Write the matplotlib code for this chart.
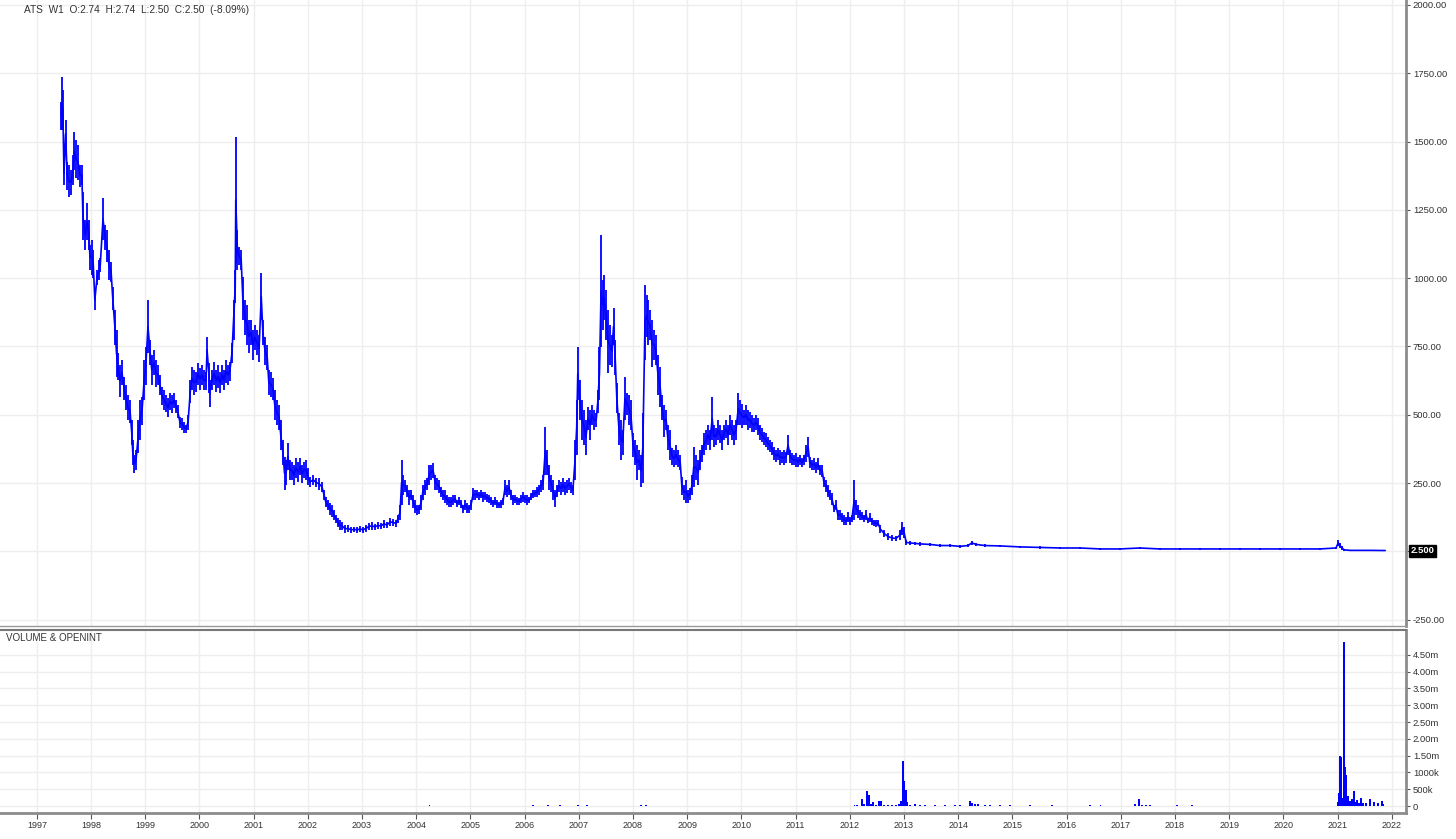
import matplotlib
matplotlib.use("Agg")
import matplotlib.pyplot as plt

plt.rcParams['font.family'] = ['Liberation Sans', 'DejaVu Sans']

# Weekly bars: (decimal year, high, low)
price_bars = [
    (1997.45, 1645, 1543), (1997.46, 1737, 1543), (1997.48, 1689, 1543), (1997.50, 1426, 1341),
    (1997.53, 1579, 1477), (1997.56, 1426, 1323), (1997.59, 1415, 1297), (1997.63, 1396, 1305),
    (1997.67, 1451, 1341), (1997.69, 1535, 1396), (1997.72, 1506, 1367), (1997.76, 1488, 1360),
    (1997.80, 1415, 1334), (1997.83, 1415, 1341), (1997.85, 1316, 1140), (1997.89, 1213, 1103),
    (1997.93, 1275, 1140), (1997.96, 1213, 1103), (1997.98, 1122, 1030), (1998.02, 1140, 1012),
    (1998.04, 1103, 1001), (1998.07, 957, 884), (1998.11, 1030, 975), (1998.15, 1067, 994),
    (1998.17, 1074, 1023), (1998.22, 1294, 1140), (1998.26, 1195, 1103), (1998.29, 1177, 1060),
    (1998.33, 1103, 994), (1998.37, 1060, 986), (1998.40, 968, 884), (1998.44, 884, 756),
    (1998.47, 811, 639), (1998.50, 726, 628), (1998.53, 683, 565), (1998.57, 701, 609),
    (1998.61, 639, 554), (1998.64, 609, 518), (1998.68, 573, 481), (1998.72, 554, 470),
    (1998.75, 481, 390), (1998.77, 408, 317), (1998.80, 353, 287), (1998.83, 371, 298),
    (1998.87, 481, 361), (1998.90, 554, 408), (1998.94, 565, 463), (1998.98, 701, 554),
    (1999.01, 748, 609), (1999.05, 920, 726), (1999.09, 774, 683), (1999.12, 719, 609),
    (1999.16, 737, 646), (1999.20, 701, 602), (1999.24, 683, 609), (1999.27, 646, 573),
    (1999.31, 602, 536), (1999.35, 591, 518), (1999.38, 573, 511), (1999.42, 562, 492),
    (1999.46, 580, 518), (1999.49, 573, 507), (1999.53, 580, 525), (1999.57, 554, 507),
    (1999.60, 536, 489), (1999.64, 492, 452), (1999.68, 489, 445), (1999.72, 474, 434),
    (1999.75, 463, 434), (1999.79, 500, 445), (1999.83, 628, 543), (1999.86, 675, 591),
    (1999.90, 664, 573), (1999.94, 657, 584), (1999.97, 690, 609), (2000.01, 672, 591),
    (2000.05, 683, 609), (2000.08, 664, 591), (2000.12, 657, 591), (2000.14, 785, 690),
    (2000.18, 690, 580), (2000.19, 628, 529), (2000.23, 664, 591), (2000.27, 694, 609),
    (2000.31, 664, 584), (2000.34, 683, 598), (2000.38, 657, 580), (2000.42, 683, 609),
    (2000.45, 664, 591), (2000.49, 701, 617), (2000.53, 683, 609), (2000.56, 694, 624),
    (2000.60, 763, 690), (2000.63, 920, 774), (2000.66, 1030, 909), (2000.67, 1517, 1055),
    (2000.70, 1177, 1030), (2000.73, 1115, 1049), (2000.77, 1103, 1030), (2000.80, 1005, 847),
    (2000.84, 920, 792), (2000.88, 902, 756), (2000.91, 847, 726), (2000.95, 847, 756),
    (2000.99, 811, 701), (2001.02, 829, 737), (2001.06, 811, 719), (2001.10, 792, 694),
    (2001.14, 1019, 847), (2001.17, 847, 756), (2001.21, 785, 683), (2001.25, 756, 664),
    (2001.28, 664, 573), (2001.32, 657, 565), (2001.36, 635, 554), (2001.39, 591, 481),
    (2001.43, 554, 463), (2001.47, 536, 445), (2001.50, 481, 371), (2001.54, 408, 317),
    (2001.57, 346, 225), (2001.60, 335, 243), (2001.63, 397, 298), (2001.67, 335, 262),
    (2001.71, 328, 262), (2001.74, 317, 243), (2001.78, 342, 269), (2001.82, 328, 254),
    (2001.86, 342, 280), (2001.89, 317, 251), (2001.93, 328, 269), (2001.97, 335, 262),
    (2002.00, 306, 243), (2002.04, 273, 236), (2002.10, 280, 243), (2002.15, 269, 236),
    (2002.21, 269, 225), (2002.26, 254, 218), (2002.30, 225, 188), (2002.33, 199, 163),
    (2002.37, 188, 152), (2002.41, 177, 134), (2002.45, 170, 126), (2002.48, 152, 115),
    (2002.52, 134, 104), (2002.56, 123, 90), (2002.59, 115, 79), (2002.63, 108, 79),
    (2002.69, 97, 68), (2002.74, 97, 71), (2002.80, 90, 68), (2002.85, 90, 71),
    (2002.91, 90, 68), (2002.96, 93, 71), (2003.02, 90, 68), (2003.07, 97, 71),
    (2003.13, 104, 79), (2003.18, 108, 79), (2003.24, 101, 79), (2003.29, 108, 82),
    (2003.35, 104, 82), (2003.40, 115, 86), (2003.46, 108, 86), (2003.52, 123, 93),
    (2003.57, 119, 93), (2003.63, 115, 90), (2003.66, 134, 104), (2003.70, 170, 115),
    (2003.73, 335, 170), (2003.76, 280, 207), (2003.79, 262, 218), (2003.83, 243, 199),
    (2003.87, 225, 170), (2003.90, 225, 188), (2003.94, 207, 159), (2003.98, 188, 141),
    (2004.01, 170, 134), (2004.05, 170, 137), (2004.09, 207, 152), (2004.12, 243, 188),
    (2004.16, 262, 207), (2004.20, 269, 225), (2004.24, 317, 243), (2004.27, 317, 262),
    (2004.31, 324, 269), (2004.35, 280, 225), (2004.38, 269, 225), (2004.42, 262, 214),
    (2004.46, 236, 199), (2004.49, 225, 188), (2004.53, 225, 177), (2004.57, 207, 170),
    (2004.60, 199, 163), (2004.64, 199, 163), (2004.68, 207, 170), (2004.72, 207, 177),
    (2004.75, 188, 163), (2004.79, 199, 170), (2004.83, 188, 159), (2004.86, 170, 141),
    (2004.90, 188, 152), (2004.94, 177, 141), (2004.97, 170, 141), (2005.01, 188, 152),
    (2005.05, 232, 188), (2005.08, 225, 188), (2005.12, 225, 196), (2005.16, 218, 188),
    (2005.20, 225, 196), (2005.23, 218, 181), (2005.27, 218, 188), (2005.31, 210, 181),
    (2005.34, 207, 177), (2005.38, 199, 170), (2005.42, 188, 163), (2005.45, 199, 170),
    (2005.49, 188, 159), (2005.53, 181, 159), (2005.56, 188, 159), (2005.60, 196, 170),
    (2005.64, 262, 207), (2005.67, 243, 199), (2005.71, 262, 207), (2005.75, 225, 188),
    (2005.79, 207, 170), (2005.82, 207, 177), (2005.86, 199, 170), (2005.90, 196, 170),
    (2005.93, 207, 177), (2005.97, 218, 181), (2006.01, 207, 177), (2006.04, 207, 170),
    (2006.08, 199, 177), (2006.12, 214, 188), (2006.15, 225, 196), (2006.19, 225, 199),
    (2006.23, 236, 199), (2006.26, 243, 207), (2006.30, 262, 218), (2006.34, 280, 225),
    (2006.38, 456, 280), (2006.41, 371, 280), (2006.45, 317, 225), (2006.49, 280, 218),
    (2006.52, 262, 188), (2006.56, 225, 163), (2006.60, 243, 199), (2006.63, 262, 218),
    (2006.67, 254, 207), (2006.71, 269, 218), (2006.74, 254, 207), (2006.78, 262, 214),
    (2006.82, 269, 225), (2006.86, 254, 214), (2006.89, 243, 207), (2006.93, 408, 262),
    (2006.96, 554, 353), (2006.98, 748, 554), (2007.02, 628, 481), (2007.06, 554, 408),
    (2007.10, 518, 390), (2007.13, 481, 353), (2007.17, 529, 445), (2007.21, 518, 408),
    (2007.24, 536, 463), (2007.28, 518, 445), (2007.32, 507, 456), (2007.35, 591, 507),
    (2007.38, 748, 554), (2007.41, 1159, 748), (2007.44, 994, 811), (2007.46, 1012, 847),
    (2007.50, 957, 774), (2007.54, 884, 653), (2007.57, 829, 683), (2007.61, 792, 675),
    (2007.64, 891, 756), (2007.67, 774, 646), (2007.70, 617, 507), (2007.74, 507, 390),
    (2007.78, 481, 335), (2007.81, 445, 353), (2007.85, 639, 481), (2007.89, 580, 500),
    (2007.93, 573, 463), (2007.96, 554, 445), (2008.00, 434, 346), (2008.04, 408, 317),
    (2008.07, 390, 262), (2008.11, 371, 298), (2008.15, 353, 236), (2008.18, 507, 251),
    (2008.22, 975, 701), (2008.25, 939, 785), (2008.28, 920, 756), (2008.31, 884, 774),
    (2008.35, 847, 675), (2008.39, 811, 701), (2008.42, 792, 683), (2008.46, 719, 573),
    (2008.50, 675, 529), (2008.53, 573, 481), (2008.57, 536, 419), (2008.61, 518, 445),
    (2008.64, 463, 371), (2008.68, 445, 335), (2008.72, 379, 317), (2008.75, 371, 309),
    (2008.79, 390, 317), (2008.83, 371, 309), (2008.87, 353, 298), (2008.90, 273, 207),
    (2008.94, 243, 188), (2008.98, 262, 177), (2009.01, 225, 177), (2009.05, 232, 188),
    (2009.09, 280, 207), (2009.12, 382, 236), (2009.16, 353, 262), (2009.20, 335, 243),
    (2009.24, 371, 298), (2009.27, 390, 328), (2009.31, 434, 353), (2009.35, 445, 371),
    (2009.38, 463, 390), (2009.42, 445, 371), (2009.46, 565, 408), (2009.49, 463, 382),
    (2009.53, 452, 390), (2009.57, 481, 408), (2009.60, 463, 397), (2009.64, 445, 371),
    (2009.68, 463, 408), (2009.72, 481, 415), (2009.75, 463, 390), (2009.79, 500, 426),
    (2009.83, 481, 408), (2009.86, 463, 390), (2009.90, 481, 408), (2009.94, 580, 463),
    (2009.97, 554, 463), (2010.01, 540, 452), (2010.05, 518, 463), (2010.08, 536, 463),
    (2010.12, 518, 445), (2010.16, 511, 452), (2010.19, 500, 437), (2010.23, 489, 437),
    (2010.27, 500, 445), (2010.31, 489, 426), (2010.34, 463, 408), (2010.38, 452, 401),
    (2010.42, 437, 390), (2010.45, 434, 382), (2010.49, 419, 371), (2010.53, 408, 364),
    (2010.56, 401, 353), (2010.60, 382, 335), (2010.64, 371, 328), (2010.67, 379, 335),
    (2010.71, 371, 317), (2010.75, 364, 324), (2010.79, 371, 317), (2010.82, 364, 324),
    (2010.86, 426, 353), (2010.90, 371, 324), (2010.93, 361, 317), (2010.97, 353, 317),
    (2011.01, 361, 309), (2011.04, 346, 309), (2011.08, 353, 317), (2011.12, 342, 309),
    (2011.15, 353, 317), (2011.19, 390, 328), (2011.23, 419, 346), (2011.26, 346, 306),
    (2011.30, 335, 298), (2011.34, 342, 298), (2011.38, 328, 287), (2011.41, 342, 298),
    (2011.45, 317, 280), (2011.49, 317, 273), (2011.52, 273, 236), (2011.56, 262, 218),
    (2011.60, 243, 199), (2011.63, 225, 188), (2011.67, 214, 170), (2011.71, 170, 145),
    (2011.74, 188, 152), (2011.78, 152, 115), (2011.82, 152, 115), (2011.86, 141, 108),
    (2011.89, 134, 97), (2011.93, 126, 97), (2011.97, 145, 108), (2012.00, 126, 97),
    (2012.04, 134, 108), (2012.08, 262, 115), (2012.11, 188, 134), (2012.15, 170, 123),
    (2012.19, 152, 115), (2012.22, 145, 115), (2012.26, 134, 108), (2012.30, 152, 115),
    (2012.33, 123, 104), (2012.37, 141, 108), (2012.41, 123, 97), (2012.45, 115, 93),
    (2012.48, 115, 90), (2012.52, 115, 93), (2012.56, 97, 68), (2012.63, 79, 53),
    (2012.70, 68, 42), (2012.78, 60, 38), (2012.85, 57, 38), (2012.93, 79, 42),
    (2012.96, 108, 60), (2013.00, 90, 49), (2013.04, 42, 24), (2013.11, 38, 24),
    (2013.20, 35, 24), (2013.29, 35, 20), (2013.48, 31, 20), (2013.66, 27, 16),
    (2013.85, 27, 16), (2014.03, 24, 13), (2014.18, 27, 16), (2014.25, 38, 24),
    (2014.33, 31, 20), (2014.49, 27, 16), (2014.77, 24, 16), (2015.14, 20, 13),
    (2015.51, 20, 9), (2015.88, 16, 9), (2016.25, 16, 9), (2016.62, 13, 5),
    (2016.98, 13, 5), (2017.35, 16, 9), (2017.72, 13, 5), (2018.09, 13, 5),
    (2018.46, 13, 5), (2018.83, 13, 5), (2019.20, 13, 5), (2019.57, 13, 5),
    (2019.94, 13, 5), (2020.31, 13, 5), (2020.67, 13, 5), (2020.97, 16, 9),
    (2021.01, 42, 20), (2021.04, 31, 13), (2021.08, 20, 5), (2021.12, 9, 2.5),
    (2021.23, 5, 2.5), (2021.60, 5, 2.5), (2021.87, 4, 2.5),
]
bar_years = [b[0] for b in price_bars]
bar_highs = [b[1] for b in price_bars]
bar_lows = [b[2] for b in price_bars]

# Volume (decimal year, shares)
vol_years = [2004.24, 2005.67, 2006.15, 2006.43, 2006.65, 2006.98, 2007.15, 2008.15, 2008.24,
             2009.24, 2009.97, 2010.90, 2011.45,
             2012.09, 2012.13, 2012.22, 2012.26, 2012.32, 2012.35, 2012.39, 2012.43, 2012.48,
             2012.54, 2012.57, 2012.63, 2012.70, 2012.78, 2012.85, 2012.91, 2012.94, 2012.98,
             2013.00, 2013.04, 2013.05, 2013.11, 2013.20, 2013.29, 2013.39, 2013.57, 2013.76,
             2013.94, 2014.03, 2014.22, 2014.25, 2014.31, 2014.36, 2014.49, 2014.59, 2014.77,
             2014.95, 2015.32, 2015.55, 2015.73, 2015.88, 2015.97, 2016.25, 2016.43, 2016.62,
             2016.71, 2017.26, 2017.33, 2017.39, 2017.46, 2017.54, 2018.04, 2018.31, 2020.07,
             2021.01, 2021.02, 2021.04, 2021.06, 2021.08, 2021.12, 2021.14, 2021.15, 2021.17,
             2021.19, 2021.23, 2021.26, 2021.30, 2021.33, 2021.36, 2021.39, 2021.43, 2021.47,
             2021.52, 2021.60, 2021.67, 2021.74, 2021.82, 2021.85]
vol_values = [20e3, 15e3, 20e3, 25e3, 20e3, 40e3, 20e3, 25e3, 20e3,
              15e3, 15e3, 15e3, 15e3,
              30e3, 30e3, 210e3, 60e3, 450e3, 330e3, 60e3, 120e3, 40e3,
              150e3, 150e3, 30e3, 30e3, 30e3, 30e3, 60e3, 150e3, 1340e3,
              740e3, 480e3, 120e3, 40e3, 50e3, 30e3, 30e3, 20e3, 20e3,
              20e3, 20e3, 150e3, 80e3, 60e3, 50e3, 30e3, 20e3, 20e3,
              20e3, 20e3, 15e3, 40e3, 15e3, 15e3, 15e3, 20e3, 20e3,
              15e3, 60e3, 200e3, 40e3, 30e3, 20e3, 20e3, 20e3, 15e3,
              120e3, 390e3, 1490e3, 1450e3, 230e3, 4880e3, 1160e3, 920e3, 270e3,
              300e3, 150e3, 210e3, 450e3, 120e3, 180e3, 80e3, 240e3, 80e3,
              100e3, 200e3, 120e3, 90e3, 150e3, 50e3]

price_ticks = [-250, 0, 250, 500, 750, 1000, 1250, 1500, 1750, 2000]
price_tick_labels = ['-250.00', '', '250.00', '500.00', '750.00', '1000.00', '1250.00',
                     '1500.00', '1750.00', '2000.00']
vol_ticks = [0, 500e3, 1000e3, 1500e3, 2000e3, 2500e3, 3000e3, 3500e3, 4000e3, 4500e3]
vol_tick_labels = ['0', '500k', '1000k', '1.50m', '2.00m', '2.50m', '3.00m', '3.50m',
                   '4.00m', '4.50m']
year_ticks = list(range(1997, 2023))
year_labels = [str(y) for y in year_ticks]

title_text = 'ATS  W1  O:2.74  H:2.74  L:2.50  C:2.50  (-8.09%)'
last_price_label = '2.500'
last_price = 2.5

BLUE = '#0000ff'
GRID = '#eeeeee'
SPINE = '#8c8c8c'
TXT = '#333333'

W, H = 1456, 839
fig = plt.figure(figsize=(W / 100, H / 100), dpi=100)
fig.patch.set_facecolor('white')
ax = fig.add_axes([0, (H - 626) / H, 1406 / W, 626 / H])
axv = fig.add_axes([0, (H - 813) / H, 1406 / W, 183 / H])

xlim = (1996.32, 1996.32 + 1406 / 54.2)

# --- price panel
ax.vlines(bar_years, bar_lows, bar_highs, color=BLUE, linewidth=1.3, zorder=3)
mids = [(h + l) / 2 for h, l in zip(bar_highs, bar_lows)]
ax.plot(bar_years, mids, color=BLUE, linewidth=1.2, zorder=3)
ax.set_xlim(*xlim)
ax.set_ylim(-273, 2018)
ax.set_yticks(price_ticks)
ax.set_yticklabels(price_tick_labels)
ax.yaxis.tick_right()
ax.set_xticks(year_ticks)
ax.tick_params(axis='x', which='both', length=0, labelbottom=False)
ax.tick_params(axis='y', direction='out', length=3, width=0.8, color='#555555',
               labelsize=6.8, labelcolor=TXT, pad=2)
ax.grid(True, color=GRID, linewidth=1, zorder=0)
for s in ['left', 'top']:
    ax.spines[s].set_visible(False)
ax.spines['right'].set_color(SPINE)
ax.spines['right'].set_linewidth(2)
ax.spines['bottom'].set_color('#999999')
ax.spines['bottom'].set_linewidth(1)
ax.text(1.003, last_price, last_price_label, transform=ax.get_yaxis_transform(),
        ha='left', va='center', fontsize=6.8, color='white', fontweight='bold',
        bbox=dict(boxstyle='square,pad=0.18', fc='black', ec='black'), clip_on=False)

fig.text(24 / W, 1 - 10 / H, title_text, ha='left', va='center', fontsize=7.3, color=TXT)

# --- volume panel
axv.bar(vol_years, vol_values, width=0.028, color=BLUE, linewidth=0, zorder=3)
axv.set_xlim(*xlim)
axv.set_ylim(-208e3, 5.24e6)
axv.set_yticks(vol_ticks)
axv.set_yticklabels(vol_tick_labels)
axv.yaxis.tick_right()
axv.set_xticks(year_ticks)
axv.set_xticklabels(year_labels)
axv.tick_params(axis='x', direction='out', length=4, width=0.8, color='#555555',
                labelsize=6.5, labelcolor=TXT, pad=2)
axv.tick_params(axis='y', direction='out', length=3, width=0.8, color='#555555',
                labelsize=6.8, labelcolor=TXT, pad=2)
axv.grid(True, color=GRID, linewidth=1, zorder=0)
axv.spines['left'].set_visible(False)
axv.spines['top'].set_color('#777777')
axv.spines['top'].set_linewidth(1.5)
axv.spines['right'].set_color(SPINE)
axv.spines['right'].set_linewidth(2)
axv.spines['bottom'].set_color(SPINE)
axv.spines['bottom'].set_linewidth(2)
axv.text(6 / 1406, 1 - 8 / 183, 'VOLUME & OPENINT', transform=axv.transAxes,
         ha='left', va='center', fontsize=7, color=TXT)

fig.savefig('out.png', dpi=100, facecolor='white')
